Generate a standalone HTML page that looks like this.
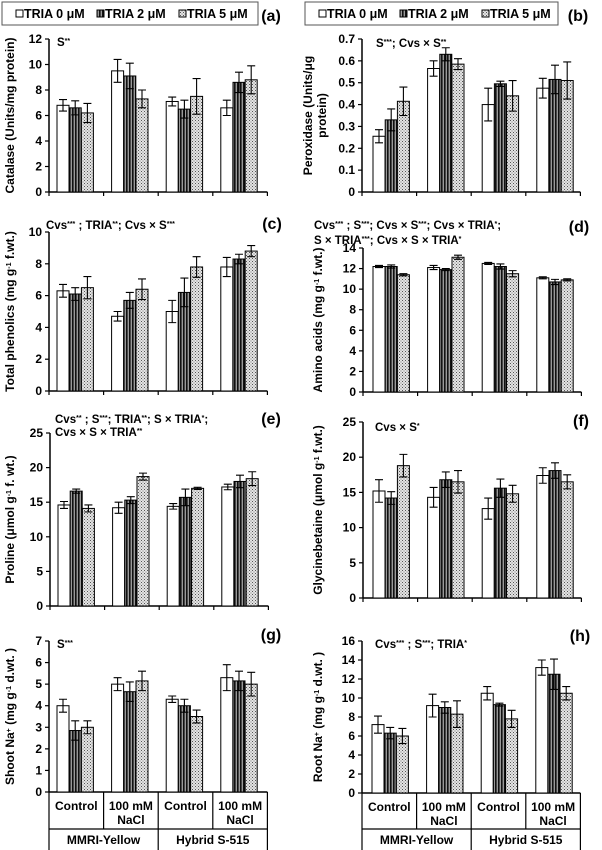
<!DOCTYPE html>
<html><head><meta charset="utf-8">
<style>
html,body{margin:0;padding:0;background:#fff;}
svg{display:block;font-family:"Liberation Sans",Arial,sans-serif;font-weight:bold;}
</style></head>
<body>
<svg id="chart" width="602" height="850" viewBox="0 0 602 850" xmlns="http://www.w3.org/2000/svg">
<defs>
<pattern id="stripe" width="3" height="4" patternUnits="userSpaceOnUse">
<rect width="3" height="4" fill="#999"/><rect width="1.6" height="4" fill="#111"/>
</pattern>
<pattern id="dots" width="3" height="3" patternUnits="userSpaceOnUse">
<rect width="3" height="3" fill="#e4e4e4"/><rect x="0" y="0" width="1" height="1" fill="#555"/><rect x="1.5" y="1.5" width="1" height="1" fill="#777"/>
</pattern>
</defs>
<g id="layer"></g>
</svg>
<script>
// ---- data ----
const seriesNames = ["TRIA 0 μM","TRIA 2 μM","TRIA 5 μM"];
const groupLabels = ["Control","100 mM NaCl","Control","100 mM NaCl"];
const cultivars = ["MMRI-Yellow","Hybrid S-515"];

const aVals = [[6.8,6.6,6.2],[9.5,9.1,7.3],[7.1,6.5,7.5],[6.6,8.6,8.8]];
const aErr  = [[0.45,0.55,0.75],[0.9,1.0,0.7],[0.35,0.7,1.4],[0.6,0.8,1.1]];
const aTicks = [0,2,4,6,8,10,12];

const bVals = [[0.255,0.33,0.415],[0.565,0.63,0.585],[0.40,0.495,0.44],[0.475,0.515,0.51]];
const bErr  = [[0.03,0.05,0.065],[0.035,0.03,0.025],[0.075,0.012,0.07],[0.045,0.065,0.085]];
const bTicks = [0,0.1,0.2,0.3,0.4,0.5,0.6,0.7];

const cVals = [[6.3,6.1,6.5],[4.7,5.7,6.4],[5.0,6.2,7.8],[7.8,8.3,8.8]];
const cErr  = [[0.4,0.4,0.7],[0.3,0.5,0.65],[0.7,0.9,0.65],[0.6,0.3,0.35]];
const cTicks = [0,2,4,6,8,10];

const dVals = [[12.2,12.2,11.4],[12.1,11.9,13.1],[12.5,12.2,11.5],[11.1,10.7,10.9]];
const dErr  = [[0.1,0.15,0.1],[0.2,0.1,0.2],[0.1,0.25,0.3],[0.1,0.25,0.1]];
const dTicks = [0,2,4,6,8,10,12,14];

const eVals = [[14.6,16.6,14.1],[14.2,15.3,18.7],[14.4,15.7,17.0],[17.2,18.0,18.4]];
const eErr  = [[0.5,0.3,0.5],[0.8,0.5,0.5],[0.4,1.2,0.15],[0.4,0.9,1.0]];
const eTicks = [0,5,10,15,20,25];

const fVals = [[15.2,14.2,18.8],[14.3,16.8,16.5],[12.7,15.6,14.8],[17.4,18.1,16.5]];
const fErr  = [[1.6,0.9,1.6],[1.4,1.1,1.6],[1.5,1.3,1.2],[1.1,1.1,1.0]];
const fTicks = [0,5,10,15,20,25];

const gVals = [[4.0,2.85,3.0],[5.0,4.65,5.15],[4.3,4.0,3.5],[5.3,5.15,5.0]];
const gErr  = [[0.3,0.45,0.3],[0.3,0.45,0.45],[0.15,0.3,0.3],[0.6,0.45,0.55]];
const gTicks = [0,1,2,3,4,5,6,7];

const hVals = [[7.2,6.3,6.0],[9.2,9.0,8.3],[10.5,9.3,7.8],[13.2,12.5,10.5]];
const hErr  = [[0.9,0.6,0.8],[1.2,0.6,1.4],[0.7,0.15,0.9],[0.8,1.6,0.7]];
const hTicks = [0,2,4,6,8,10,12,14,16];

const NS="http://www.w3.org/2000/svg";
const layer=document.getElementById('layer');
const fills=["#fff","url(#stripe)","url(#dots)"];
function el(tag,attrs,parent){const e=document.createElementNS(NS,tag);for(const k in attrs)e.setAttribute(k,attrs[k]);(parent||layer).appendChild(e);return e;}
function txt(s,x,y,size,anchor,parent){const t=el('text',{x:x,y:y,'font-size':size,'text-anchor':anchor||'start',fill:'#000'},parent);t.textContent=s;return t;}

function panel(id,vals,errs,ticks,x0,yTop,yBot,opts){
  const g=el('g',{});
  
  
  const gw=54.6, xEnd=x0+gw*4;
  const ymax=ticks[ticks.length-1];
  const y=v=>yBot-(v/ymax)*(yBot-yTop);
  const ya=el('line',{x1:x0,y1:yTop,x2:x0,y2:yBot,stroke:'#000','stroke-width':1.5},g);
  
  
  const xa=el('line',{x1:x0,y1:yBot,x2:xEnd,y2:yBot,stroke:'#000','stroke-width':1.5},g);
  
  
  ticks.forEach(t=>{
    el('line',{x1:x0-4,y1:y(t),x2:x0,y2:y(t),stroke:'#000','stroke-width':1.2},g);
    const lab=txt(String(t),x0-7,y(t)+4,12,'end',g);
    
    
  });
  for(let i=0;i<=4;i++){
    if(!opts.bottom) el('line',{x1:x0+gw*i,y1:yBot,x2:x0+gw*i,y2:yBot+4,stroke:'#000','stroke-width':1.2},g);
  }
  vals.forEach((grp,gi)=>{
    grp.forEach((v,si)=>{
      const bx=x0+gw*gi+opts.off+si*12.2;
      const r=el('rect',{x:bx,y:y(v),width:12,height:yBot-y(v),fill:fills[si],stroke:'#000','stroke-width':1},g);
      
      
      const e=errs[gi][si], cx=bx+6;
      const eb=el('path',{d:`M${cx},${y(v+e)}V${y(v-e)}M${cx-4},${y(v+e)}H${cx+4}M${cx-4},${y(v-e)}H${cx+4}`,stroke:'#000','stroke-width':1.1,fill:'none'},g);
      
      
    });
  });
  const tg=el('g',{transform:`translate(${opts.tx},${(yTop+yBot)/2}) rotate(-90)`},g);
  
  
  opts.title.forEach((line,i)=>{
    const t=el('text',{x:0,y:i*14-(opts.title.length-1)*7,'font-size':12,'text-anchor':'middle'},tg);
    t.innerHTML=line;
  });
  opts.ann.forEach((a,i)=>{
    const t=el('text',{x:a[1],y:a[2],'font-size':11.5},g);
    t.innerHTML=a[0];
    
    
  });
  const pl=txt('('+id+')',opts.lab[0],opts.lab[1],16,'middle',g);
  
  
  if(opts.bottom){
    for(let i=0;i<=4;i++){
      const xx=x0+gw*i;
      el('line',{x1:xx,y1:yBot,x2:xx,y2:(i%2==0)?850:829,stroke:'#000','stroke-width':1.2},g);
    }
    el('line',{x1:x0,y1:829,x2:xEnd,y2:829,stroke:'#000','stroke-width':1.2},g);
    groupLabels.forEach((s,i)=>{
      const cx=x0+gw*(i+0.5);
      if(s.indexOf('NaCl')>0){
        const a=txt('100 mM',cx,yBot+18,12,'middle',g);
        const b=txt('NaCl',cx,yBot+32,12,'middle',g);
      } else {
        const a=txt(s,cx,yBot+18,12,'middle',g);
      }
    });
    cultivars.forEach((s,i)=>{
      const c=txt(s,x0+gw*(i*2+1),844,12,'middle',g);
      
      
    });
  }
}

function legend(x,w,id){
  const g=el('g',{});
  
  
  el('rect',{x:x,y:2,width:w,height:23,fill:'#fff',stroke:'#555','stroke-width':1},g);
  const starts=[x+14,x+95,x+177];
  seriesNames.forEach((s,i)=>{
    const r=el('rect',{x:starts[i],y:10,width:7,height:7,fill:fills[i],stroke:'#000','stroke-width':1},g);
    
    
    const t=txt(s,starts[i]+8,18,12.5,'start',g);
    
    
  });
}
legend(2,256,'left');
legend(305,253,'right');

const sup=s=>`<tspan baseline-shift="super" font-size="7">${s}</tspan>`;
panel('a',aVals,aErr,aTicks,49,39,192,{off:8,tx:14,title:['Catalase (Units/mg protein)'],ann:[['S'+sup('**'),57,46]],lab:[271,21]});
panel('b',bVals,bErr,bTicks,362,39,192,{off:11,tx:319,title:['Peroxidase (Units/μg','protein)'],ann:[['S'+sup('***')+'; Cvs × S'+sup('**'),376,47]],lab:[578,21]});
panel('c',cVals,cErr,cTicks,49,232,391,{off:8,tx:14,title:['Total  phenolics (mg g'+sup('-1')+' f.wt.)'],ann:[['Cvs'+sup('***')+' ; TRIA'+sup('**')+'; Cvs × S'+sup('***'),46,229]],lab:[272,229]});
panel('d',dVals,dErr,dTicks,363,248,392,{off:10,tx:322,title:['Amino acids (mg g'+sup('-1')+' f.wt.)'],ann:[['Cvs'+sup('***')+' ; S'+sup('***')+'; Cvs × S'+sup('***')+'; Cvs × TRIA'+sup('*')+';',314,229],['S × TRIA'+sup('***')+'; Cvs × S × TRIA'+sup('*'),314,244]],lab:[579,232]});
panel('e',eVals,eErr,eTicks,50,433,606,{off:8,tx:14,title:['Proline (μmol g'+sup('-1')+' f. wt.)'],ann:[['Cvs'+sup('**')+' ; S'+sup('***')+'; TRIA'+sup('**')+'; S × TRIA'+sup('*')+';',55,423],['Cvs × S × TRIA'+sup('**'),55,436]],lab:[271,424]});
panel('f',fVals,fErr,fTicks,363,422,598,{off:10,tx:322,title:['Glycinebetaine (μmol g'+sup('-1')+' f.wt.)'],ann:[['Cvs × S'+sup('*'),375,431]],lab:[581,426]});
panel('g',gVals,gErr,gTicks,49,641,792,{bottom:true,off:8,tx:14,title:['Shoot Na'+sup('+')+' (mg g'+sup('-1')+' d.wt. )'],ann:[['S'+sup('***'),57,648]],lab:[271,640]});
panel('h',hVals,hErr,hTicks,362,641,793,{bottom:true,off:10,tx:322,title:['Root Na'+sup('+')+' (mg g'+sup('-1')+' d.wt. )'],ann:[['Cvs'+sup('***')+' ; S'+sup('***')+'; TRIA'+sup('*'),375,648]],lab:[580,641]});
</script>
</body></html>
